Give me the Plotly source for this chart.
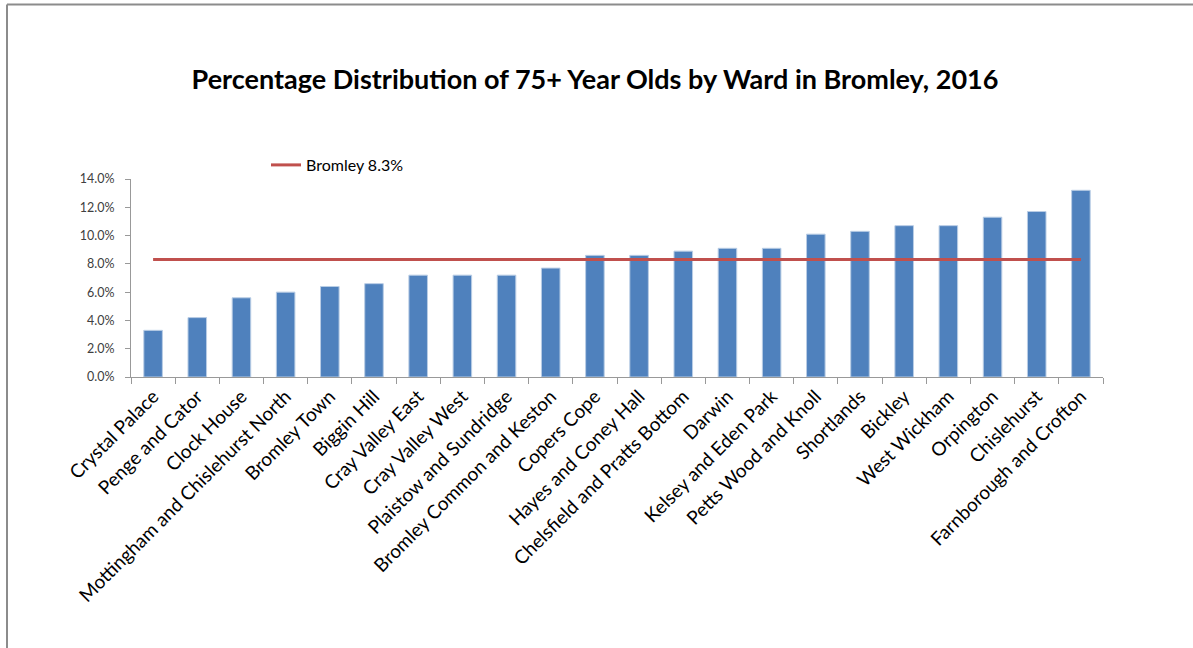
import plotly.graph_objects as go

# Ward shares of 75+ year olds, Bromley 2016
wards = [
    "Crystal Palace", "Penge and Cator", "Clock House",
    "Mottingham and Chislehurst North", "Bromley Town", "Biggin Hill",
    "Cray Valley East", "Cray Valley West", "Plaistow and Sundridge",
    "Bromley Common and Keston", "Copers Cope", "Hayes and Coney Hall",
    "Chelsfield and Pratts Bottom", "Darwin", "Kelsey and Eden Park",
    "Petts Wood and Knoll", "Shortlands", "Bickley", "West Wickham",
    "Orpington", "Chislehurst", "Farnborough and Crofton",
]
pct_75plus = [3.3, 4.2, 5.6, 6.0, 6.4, 6.6, 7.2, 7.2, 7.2, 7.7, 8.6, 8.6,
              8.9, 9.1, 9.1, 10.1, 10.3, 10.7, 10.7, 11.3, 11.7, 13.2]
bromley_avg = 8.3
y_ticks = [0, 2, 4, 6, 8, 10, 12, 14]

W, H = 1193, 648
L, R, T, B = 131, 90, 179, 271
pw, ph = W - L - R, H - T - B

font = "Lato, 'Open Sans', sans-serif"

fig = go.Figure()
fig.add_trace(go.Bar(
    x=wards, y=pct_75plus,
    marker=dict(color="#4F81BD", line=dict(color="#B9CDE5", width=1)),
    showlegend=False,
))
fig.add_trace(go.Scatter(
    x=wards, y=[bromley_avg] * len(wards),
    mode="lines", name="Bromley 8.3%",
    line=dict(color="#C0504D", width=3),
))

# outer chart frame (left and top edges only visible)
fx0 = (7 - L) / pw
fy1 = 1 + (T - 4.5) / ph
fig.add_shape(type="line", xref="paper", yref="paper",
              x0=fx0, x1=fx0, y0=fy1, y1=-(B + 5) / ph,
              line=dict(color="#8c8c8c", width=2))
fig.add_shape(type="line", xref="paper", yref="paper",
              x0=fx0, x1=(W + 5 - L) / pw, y0=fy1, y1=fy1,
              line=dict(color="#8c8c8c", width=2))

fig.update_layout(
    width=W, height=H,
    margin=dict(l=L, r=R, t=T, b=B),
    plot_bgcolor="white", paper_bgcolor="white",
    font=dict(family=font, color="#000000"),
    title=dict(
        text="<b>Percentage Distribution of 75+ Year Olds by Ward in Bromley, 2016</b>",
        x=(595 - L) / pw, xref="paper", xanchor="center",
        y=1 - 80 / H, yanchor="middle",
        font=dict(size=27, color="#000000", family=font),
    ),
    bargap=0.58,
    showlegend=True,
    legend=dict(
        orientation="h", x=(266 - L) / pw, y=1 + (T - 165) / ph,
        xanchor="left", yanchor="middle",
        font=dict(size=16, color="#000000"),
        bgcolor="rgba(0,0,0,0)",
    ),
    xaxis=dict(
        tickangle=-45, tickfont=dict(size=19, color="#000000"),
        showline=True, linecolor="#999999", linewidth=1,
        ticks="outside", ticklen=6, tickcolor="#999999",
        tickson="boundaries", showgrid=False,
    ),
    yaxis=dict(
        range=[0, 14], tickvals=y_ticks,
        ticktext=[f"{v:.1f}%" for v in y_ticks],
        tickfont=dict(size=12.5, color="#404040"),
        showline=True, linecolor="#999999", linewidth=1,
        ticks="outside", ticklen=5, tickcolor="#999999",
        ticklabelstandoff=8,
        showgrid=False, zeroline=False,
    ),
)

# page body has a default 8px margin; drop it so the figure fills the window
fig.write_html("out.html", config={"displayModeBar": False},
               post_script="document.body.style.margin='0';")
